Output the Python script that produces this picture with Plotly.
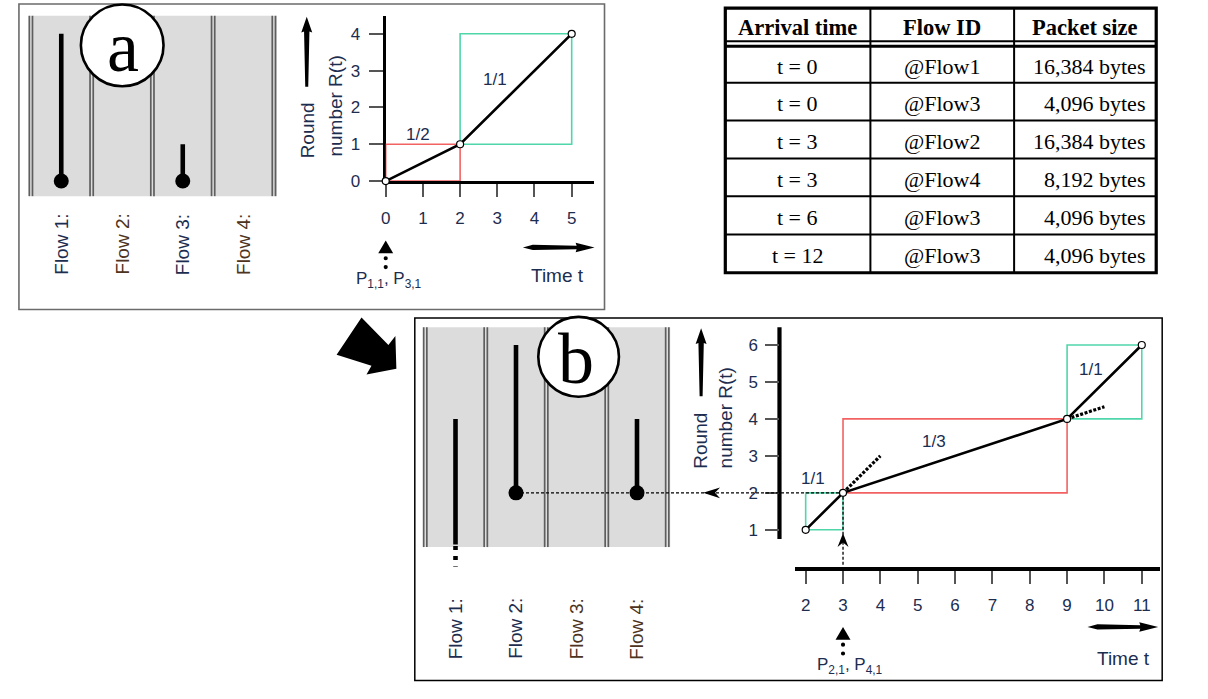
import plotly.graph_objects as go

W, H = 1208, 699

# ---------------- data ----------------
table_header = ["Arrival time", "Flow ID", "Packet size"]
arrival_times = ["t = 0", "t = 0", "t = 3", "t = 3", "t = 6", "t = 12"]
flow_ids = ["@Flow1", "@Flow3", "@Flow2", "@Flow4", "@Flow3", "@Flow3"]
packet_sizes = ["16,384 bytes", "4,096 bytes", "16,384 bytes", "8,192 bytes", "4,096 bytes", "4,096 bytes"]

flow_labels = ["Flow 1:", "Flow 2:", "Flow 3:", "Flow 4:"]

# panel a : round number R(t) vs time
a_time = [0, 2, 5]
a_round = [0, 1, 4]
a_rate_labels = ["1/2", "1/1"]
a_xticks = [0, 1, 2, 3, 4, 5]
a_yticks = [0, 1, 2, 3, 4]
a_flow_lane = [1, 3]
a_flow_start = [0, 0]
a_flow_finish = [4, 1]
a_packets = "P<sub>1,1</sub>, P<sub>3,1</sub>"

# panel b
b_time = [2, 3, 9, 11]
b_round = [1, 2, 4, 6]
b_rate_labels = ["1/1", "1/3", "1/1"]
b_xticks = [2, 3, 4, 5, 6, 7, 8, 9, 10, 11]
b_yticks = [1, 2, 3, 4, 5, 6]
b_flow_lane = [1, 2, 4]
b_flow_start = [0, 2, 2]
b_flow_solid_from = [0.6, 2, 2]
b_flow_finish = [4, 6, 4]
b_tangent_time = [[3, 4], [9, 10]]
b_tangent_round = [[2, 3], [4, 4.33]]
b_packets = "P<sub>2,1</sub>, P<sub>4,1</sub>"

# ---------------- styles / layout constants ----------------
RED = "#f26262"
TEAL = "#4fd6aa"
NAVY = "#1c2d50"
BROWN = "#4d3320"
SANS = "Liberation Sans, Arial, sans-serif"
SERIF = "Liberation Serif, Times New Roman, serif"
a_box_colors = [RED, TEAL]
b_box_colors = [TEAL, RED, TEAL]
a_rate_pos = [(0.88, 1.26), (2.95, 2.75)]
b_rate_pos = [(2.19, 2.39), (5.44, 3.39), (9.63, 5.33)]

UA, A_X0, A_Y0, A_XR, A_YT = 37.35, 382.3, 183.7, 591.5, 16.0
UB, B_T2, B_Y0, B_XL, B_XR, B_YT, B_YAX = 37.5, 804.0, 575.0, 793.3, 1160.0, 332.0, 777.7
LA_X0, LA_X1 = 26.0, 270.0
LB_X0, LB_X1 = 422.0, 665.0


def pxb(t):
    return B_T2 + (t - 2) * UB


def pyb(r):
    return B_Y0 - r * UB


def lane_px(x0, x1, i):
    return x0 + (i - 0.5) * (x1 - x0) / 4


fig = go.Figure()

# ---- chart a traces ----
for i in range(len(a_time) - 1):
    t0, t1, r0, r1 = a_time[i], a_time[i + 1], a_round[i], a_round[i + 1]
    fig.add_trace(go.Scatter(x=[t0, t1, t1, t0, t0], y=[r0, r0, r1, r1, r0], mode="lines",
                             line=dict(color=a_box_colors[i], width=1.6), xaxis="x2", yaxis="y2",
                             hoverinfo="skip"))
fig.add_trace(go.Scatter(x=a_time, y=a_round, mode="lines+markers", xaxis="x2", yaxis="y2",
                         line=dict(color="black", width=2.6), cliponaxis=False,
                         marker=dict(size=7, color="white", line=dict(color="black", width=1.2))))

# ---- chart b traces ----
for i in range(len(b_time) - 1):
    t0, t1, r0, r1 = b_time[i], b_time[i + 1], b_round[i], b_round[i + 1]
    fig.add_trace(go.Scatter(x=[t0, t1, t1, t0, t0], y=[r0, r0, r1, r1, r0], mode="lines",
                             line=dict(color=b_box_colors[i], width=1.6), xaxis="x3", yaxis="y3",
                             hoverinfo="skip"))
for tt, rr in zip(b_tangent_time, b_tangent_round):
    fig.add_trace(go.Scatter(x=tt, y=rr, mode="lines", xaxis="x3", yaxis="y3",
                             line=dict(color="black", width=3.2, dash="3px,1.6px")))
fig.add_trace(go.Scatter(x=b_time, y=b_round, mode="lines+markers", xaxis="x3", yaxis="y3",
                         line=dict(color="black", width=2.6), cliponaxis=False,
                         marker=dict(size=7, color="white", line=dict(color="black", width=1.2))))

# ---- flow queues (same vertical scale as the round number axes) ----
for ln, s, f in zip(a_flow_lane, a_flow_start, a_flow_finish):
    fig.add_trace(go.Scatter(x=[ln, ln], y=[s, f], mode="lines", xaxis="x4", yaxis="y2",
                             line=dict(color="black", width=4.6)))
    fig.add_trace(go.Scatter(x=[ln], y=[s], mode="markers", xaxis="x4", yaxis="y2", cliponaxis=False,
                             marker=dict(size=15, color="black")))
for ln, s, sf, f in zip(b_flow_lane, b_flow_start, b_flow_solid_from, b_flow_finish):
    fig.add_trace(go.Scatter(x=[ln, ln], y=[sf, f], mode="lines", xaxis="x5", yaxis="y3",
                             line=dict(color="black", width=4.6)))
    if sf > s:
        fig.add_trace(go.Scatter(x=[ln, ln], y=[sf - 0.04, s], mode="lines", xaxis="x5", yaxis="y3",
                                 line=dict(color="black", width=4.6, dash="4px,6px")))
    else:
        fig.add_trace(go.Scatter(x=[ln], y=[s], mode="markers", xaxis="x5", yaxis="y3", cliponaxis=False,
                                 marker=dict(size=15, color="black")))

# ---------------- shapes ----------------
shapes = []


def rect(x0, y0, x1, y1, line=None, fill=None, layer="below"):
    shapes.append(dict(type="rect", xref="x", yref="y", x0=x0, y0=y0, x1=x1, y1=y1, layer=layer,
                       line=line or dict(width=0), fillcolor=fill or "rgba(0,0,0,0)"))


def seg(x0, y0, x1, y1, color="black", width=1.5, dash=None, layer="below"):
    ln = dict(color=color, width=width)
    if dash:
        ln["dash"] = dash
    shapes.append(dict(type="line", xref="x", yref="y", x0=x0, y0=y0, x1=x1, y1=y1, line=ln, layer=layer))


def path(p, layer="above"):
    shapes.append(dict(type="path", xref="x", yref="y", path=p, fillcolor="black",
                       line=dict(width=0), layer=layer))


def circ(cx, cy, r, fill, lw, layer="above"):
    shapes.append(dict(type="circle", xref="x", yref="y", x0=cx - r, y0=cy - r, x1=cx + r, y1=cy + r,
                       fillcolor=fill, line=dict(color="black", width=lw), layer=layer))


# gray lane areas and double dividers
for (gx0, gx1, gy0, gy1, lx0, lx1) in [(24, 273, 16, 199, LA_X0, LA_X1), (420, 668, 332, 555, LB_X0, LB_X1)]:
    rect(gx0, gy0, gx1, gy1, fill="#dcdcdc")
    for k in range(5):
        xc = lx0 + k * (lx1 - lx0) / 4
        for d in (-1.6, 1.6):
            seg(xc + d, gy0, xc + d, gy1, color="#5e5e5e", width=1.7)

# panel frames
rect(14, 4, 602, 314, line=dict(color="#6b6b6b", width=1.6))
rect(411.5, 322.5, 1162, 690.5, line=dict(color="black", width=1.5))

# chart b vertical axis line (does not reach the time axis)
seg(B_YAX, pyb(0.75), B_YAX, B_YT, width=4.2)

# circled panel letters
circ(117.7, 46, 41.5, "white", 2.6)
circ(576, 362, 40.5, "white", 2.6)

# big arrow from panel a to panel b
path("M358,322 L385,350 L392,341 L393,374 L363,380 L368,371 L333,360 Z")


def up_arrow(cx, y_tail, y_tip):
    hh, hw = 15, 5.5
    return (f"M{cx-1.5},{y_tail} L{cx-2.7},{y_tip+hh} L{cx-hw},{y_tip+hh+1} L{cx},{y_tip} "
            f"L{cx+hw},{y_tip+hh+1} L{cx+2.7},{y_tip+hh} L{cx+1.5},{y_tail} Z")


def right_arrow(x_tail, x_tip, cy):
    hl, hw = 18, 4.8
    return (f"M{x_tail},{cy} L{x_tail+10},{cy-2.6} L{x_tip-hl},{cy-1.8} L{x_tip-hl-1},{cy-hw} L{x_tip},{cy} "
            f"L{x_tip-hl-1},{cy+hw} L{x_tip-hl},{cy+1.8} L{x_tail+10},{cy+2.6} Z")


path(up_arrow(303, 88, 17))
path(up_arrow(699, 402, 333))
path(right_arrow(520, 592, 251))
path(right_arrow(1087, 1158, 636))


def packet_arrow(cx, ty):
    path(f"M{cx},{ty} L{cx+7.5},{ty+13} L{cx-7.5},{ty+13} Z")
    circ(cx, ty + 18, 2.1, "black", 0)
    circ(cx, ty + 27, 2.1, "black", 0)


packet_arrow(A_X0, 244)
packet_arrow(pxb(3), 636)

# dashed connectors in panel b
y2 = pyb(2)
x3 = pxb(3)
seg(lane_px(LB_X0, LB_X1, 2), y2, x3 - 4, y2, width=1.3, dash="3px,2px", layer="above")
seg(x3, B_Y0 - 2, x3, y2 + 4, width=1.3, dash="3px,2px", layer="above")
path(f"M701,{y2} L718,{y2-5.5} L713,{y2} L718,{y2+5.5} Z")
path(f"M{x3},541 L{x3+5.5},555 L{x3},550.5 L{x3-5.5},555 Z")

# table grid
TX0, TX1 = 723.3, 1156.0
TCOLS = [869.0, 1013.3]
TROWS = [84.0, 122.3, 160.7, 199.0, 238.0]
TY0, TY1 = 8.3, 276.7
for xc in TCOLS:
    seg(xc, TY0, xc, TY1, width=2, layer="above")
for yr in TROWS:
    seg(TX0, yr, TX1, yr, width=2, layer="above")
seg(TX0, 41.8, TX1, 41.8, width=2, layer="above")
seg(TX0, 47.0, TX1, 47.0, width=3, layer="above")
rect(TX0, TY0, TX1, TY1, line=dict(color="black", width=3.2), layer="above")

# ---------------- annotations ----------------
ann = []


def txt(x, y, s, size=19, color=NAVY, family=SANS, xref="x", yref="y", angle=0, xanchor="center", **kw):
    ann.append(dict(x=x, y=y, text=s, xref=xref, yref=yref, showarrow=False, textangle=angle,
                    xanchor=xanchor, yanchor="middle", font=dict(size=size, color=color, family=family), **kw))


txt(118, 48, "a", size=72, color="black", family=SERIF)
txt(573, 364, "b", size=72, color="black", family=SERIF)

# table text
hdr_x = [(TX0 + TCOLS[0]) / 2, (TCOLS[0] + TCOLS[1]) / 2, (TCOLS[1] + TX1) / 2]
for hx, h in zip(hdr_x, table_header):
    txt(hx, 27.5, f"<b>{h}</b>", size=22.5, color="black", family=SERIF)
row_y = [67, 105.5, 143.7, 182, 220.5, 259]
for ry, at, fid, ps in zip(row_y, arrival_times, flow_ids, packet_sizes):
    txt(hdr_x[0], ry, at, size=22, color="black", family=SERIF)
    txt(hdr_x[1], ry, fid, size=22, color="black", family=SERIF)
    txt(1146.5, ry, ps, size=22, color="black", family=SERIF, xanchor="right")

# flow labels
a_lab_col = [NAVY, BROWN, NAVY, BROWN]
b_lab_col = [NAVY, NAVY, BROWN, BROWN]
for i, lab in enumerate(flow_labels):
    txt(i + 1, 248, lab, angle=-90, xref="x4", color=a_lab_col[i])
    txt(i + 1, 638, lab, angle=-90, xref="x5", color=b_lab_col[i])

# axis titles
txt(303.5, 132, "Round", angle=-90)
txt(331.5, 108, "number R(t)", angle=-90)
txt(697.5, 447.5, "Round", angle=-90)
txt(723.5, 424, "number R(t)", angle=-90)
txt(555, 279, "Time t")
txt(1123.5, 668, "Time t")
txt(386, 284, a_packets, size=17)
txt(849, 676, b_packets, size=17)

# rate labels
for (px, py), lab in zip(a_rate_pos, a_rate_labels):
    txt(px, py, lab, size=17, xref="x2", yref="y2")
for (px, py), lab in zip(b_rate_pos, b_rate_labels):
    txt(px, py, lab, size=17, xref="x3", yref="y3")

# ---------------- axes ----------------
hidden = dict(visible=False, showgrid=False, zeroline=False, fixedrange=True)
tickfont = dict(size=17, color=NAVY, family=SANS)
common = dict(showgrid=False, zeroline=False, ticks="outside", tickcolor="#555", tickwidth=1.5,
              tickfont=tickfont, linecolor="black", layer="below traces", fixedrange=True)

fig.update_layout(
    width=W, height=H, margin=dict(l=0, r=0, t=0, b=0), showlegend=False,
    paper_bgcolor="white", plot_bgcolor="rgba(0,0,0,0)",
    xaxis=dict(domain=[0, 1], range=[0, W], anchor="y", **hidden),
    yaxis=dict(domain=[0, 1], range=[H, 0], anchor="x", **hidden),
    xaxis2=dict(domain=[A_X0 / W, A_XR / W], range=[0, (A_XR - A_X0) / UA], anchor="y2",
                showline=True, linewidth=3, tickvals=a_xticks, ticklen=13, ticklabelstandoff=7, **common),
    yaxis2=dict(domain=[1 - A_Y0 / H, 1 - A_YT / H], range=[0, (A_Y0 - A_YT) / UA], anchor="x2",
                showline=True, linewidth=3, tickvals=a_yticks, ticklen=14, ticklabelstandoff=5, **common),
    xaxis3=dict(domain=[B_XL / W, B_XR / W], range=[2 - (B_T2 - B_XL) / UB, 2 + (B_XR - B_T2) / UB],
                anchor="y3", showline=True, linewidth=4, tickvals=b_xticks, ticklen=13,
                ticklabelstandoff=7, **common),
    yaxis3=dict(domain=[1 - B_Y0 / H, 1 - B_YT / H], range=[0, (B_Y0 - B_YT) / UB], anchor="free",
                position=B_YAX / W, showline=False, tickvals=b_yticks, ticklen=14, ticklabelstandoff=4,
                **common),
    xaxis4=dict(domain=[LA_X0 / W, LA_X1 / W], range=[0.5, 4.5], anchor="y2", **hidden),
    xaxis5=dict(domain=[LB_X0 / W, LB_X1 / W], range=[0.5, 4.5], anchor="y3", **hidden),
    shapes=shapes, annotations=ann,
)

fig.write_html("out.html", config={"displayModeBar": False},
               post_script="document.body.style.margin='0';document.body.style.overflow='hidden';")
